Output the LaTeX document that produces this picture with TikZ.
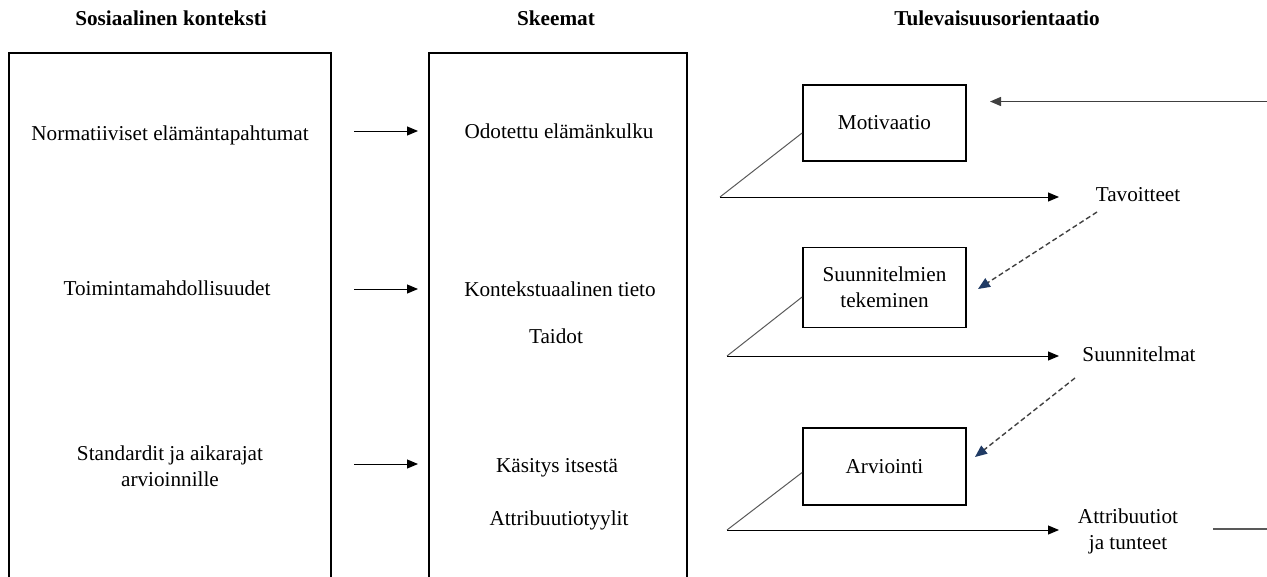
\documentclass[tikz,border=0pt]{standalone}
\usepackage{fontspec}
\setmainfont{Liberation Serif}
\usetikzlibrary{arrows.meta}
\definecolor{tipblue}{HTML}{1F3A64}
\tikzset{
  lbl/.style={font=\fontsize{21.2}{26}\selectfont, inner sep=0pt, anchor=base, align=center},
  lbl2/.style={font=\fontsize{21.2}{26}\selectfont, inner sep=0pt, anchor=center, align=center},
  ttl/.style={font=\fontsize{21.2}{26}\selectfont\bfseries, inner sep=0pt, anchor=base},
  bigbox/.style={draw=black, line width=1.8pt},
  fbox/.style={draw=black, line width=1.8pt, minimum width=163pt, inner sep=0pt, align=center, font=\fontsize{21.2}{26}\selectfont},
  arr/.style={line width=1pt, -{Triangle[length=11pt,width=9pt]}},
  diag/.style={draw=black!65, line width=1pt},
  dasharr/.style={draw=black!75, line width=1.4pt, dash pattern=on 5pt off 3pt, -{Triangle[length=12pt,width=10pt,color=tipblue]}},
}
\begin{document}
\begin{tikzpicture}[x=1pt,y=-1pt]
\useasboundingbox (0,0) rectangle (1267,576);
% titles
\node[ttl] (t1) at (171,25) {Sosiaalinen konteksti};
\node[ttl] (t2) at (556,25) {Skeemat};
\node[ttl] (t3) at (997,25) {Tulevaisuusorientaatio};
% big boxes (open at bottom, continuing past the edge)
\draw[bigbox] (9,590) -- (9,53) -- (331,53) -- (331,590);
\draw[bigbox] (429,590) -- (429,53) -- (687,53) -- (687,590);
% left texts
\node[lbl] (n1) at (170,140) {Normatiiviset elämäntapahtumat};
\node[lbl] (n2) at (167,295) {Toimintamahdollisuudet};
\node[lbl2] (n3) at (170,466) {Standardit ja aikarajat\\arvioinnille};
% middle texts
\node[lbl] (m1) at (559,138) {Odotettu elämänkulku};
\node[lbl] (m2) at (560,296) {Kontekstuaalinen tieto};
\node[lbl] (m3) at (556,343) {Taidot};
\node[lbl] (m4) at (557,472) {Käsitys itsestä};
\node[lbl] (m5) at (559,525) {Attribuutiotyylit};
% arrows between columns
\coordinate (a1s) at (354,131); \coordinate (a1e) at (418,131);
\coordinate (a2s) at (354,289); \coordinate (a2e) at (418,289);
\coordinate (a3s) at (354,464); \coordinate (a3e) at (418,464);
\draw[arr] (a1s) -- (a1e);
\draw[arr] (a2s) -- (a2e);
\draw[arr] (a3s) -- (a3e);
% right boxes
\node[fbox, minimum height=76pt] (mot) at (884.5,123) {Motivaatio};
\node[fbox, minimum height=80pt] (suu) at (884.5,287.5) {Suunnitelmien\\tekeminen};
\node[fbox, minimum height=77pt] (arv) at (884.5,466.5) {Arviointi};
% outcomes
\node[lbl] (tav) at (1138,201) {Tavoitteet};
\node[lbl] (sun) at (1139,361) {Suunnitelmat};
\node[lbl2] (att) at (1128,531) {Attribuutiot\\ja tunteet};
% junctions
\coordinate (j1) at (720,197);
\coordinate (j2) at (727,356);
\coordinate (j3) at (727,530);
\coordinate (e1) at (1059,197);
\coordinate (e2) at (1059,356);
\coordinate (e3) at (1059,530);
\draw[diag] (j1) -- ([yshift=-10pt]mot.west);
\draw[diag] (j2) -- ([yshift=-9.5pt]suu.west);
\draw[diag] (j3) -- ([yshift=-6pt]arv.west);
\draw[arr] (j1) -- (e1);
\draw[arr] (j2) -- (e2);
\draw[arr] (j3) -- (e3);
% dashed feedback arrows
\coordinate (d1s) at (1097,212); \coordinate (d1e) at (978,289);
\coordinate (d2s) at (1075,378); \coordinate (d2e) at (975,457);
\draw[dasharr] (d1s) -- (d1e);
\draw[dasharr] (d2s) -- (d2e);
% feedback from the right edge
\coordinate (fb) at (1268,101.5);
\coordinate (fbe) at (990,101.5);
\draw[arr, line width=1.4pt, draw=black!75] (fb) -- (fbe);
\coordinate (ob) at (1213,529);
\coordinate (obe) at (1268,529);
\draw[line width=1.2pt, draw=black!65] (ob) -- (obe);
\end{tikzpicture}
\end{document}
